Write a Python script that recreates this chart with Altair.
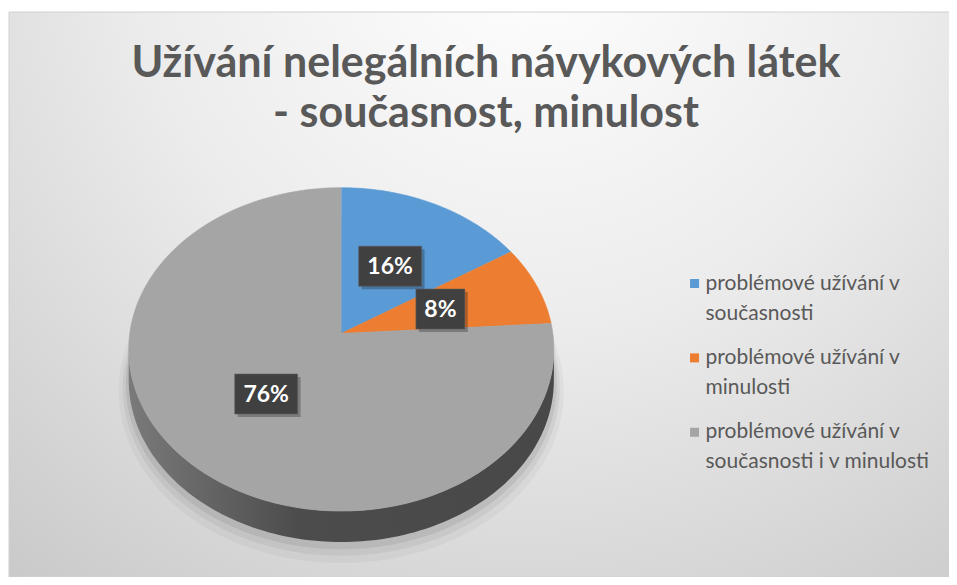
import altair as alt
import pandas as pd
import textwrap

# ---- data ----
categories = [
    "problémové užívání v současnosti",
    "problémové užívání v minulosti",
    "problémové užívání v současnosti i v minulosti",
]
values = [16, 8, 76]
colors = ["#5b9bd5", "#ed7d31", "#a5a5a5"]
title_lines = ["Užívání nelegálních návykových látek", "- současnost, minulost"]

# ---- layout constants (view pixels) ----
W, H = 941, 569
CX, CY = 333, 326          # pie centre
R, S, K = 212, 160.4, 0.0987  # perspective ellipse parameters
D = 31                     # pie thickness
N = 120                    # arc resolution

df = pd.DataFrame({
    "category": categories,
    "value": values,
    "order": list(range(len(categories))),
    "legend": [textwrap.fill(c, 26) for c in categories],
})

xs = alt.Scale(domain=[0, W], nice=False, zero=False)
ys = alt.Scale(domain=[0, H], nice=False, zero=False, reverse=True)
cscale = alt.Scale(domain=categories, range=colors)


def X(f):
    return alt.X(f, type="quantitative", scale=xs, axis=None)


def Y(f):
    return alt.Y(f, type="quantitative", scale=ys, axis=None)


def projx(t, r, rx=R):
    return f"{CX} + {rx}*({r})*sin({t})/(1 + {K}*({r})*cos({t}))"


def projy(t, r, ry=S):
    return f"{CY} - {ry}*({r})*cos({t})/(1 + {K}*({r})*cos({t}))"


# background with radial gradient
bg = alt.Chart(pd.DataFrame({"a": [0]})).mark_rect(
    fill=alt.RadialGradient(
        gradient="radial",
        stops=[
            alt.GradientStop(color="#ffffff", offset=0),
            alt.GradientStop(color="#ececec", offset=0.45),
            alt.GradientStop(color="#c6c6c6", offset=1),
        ],
        x1=0.55, y1=0.12, x2=0.55, y2=0.12, r1=0, r2=0.92,
    ),
    stroke="#d0d0d0",
    strokeWidth=1,
).encode(x=alt.value(0), x2=alt.value(W), y=alt.value(4), y2=alt.value(H))

# soft shadow beneath the pie
shadows = []
for g, off, op in [(10, 10, 0.035), (6, 7, 0.05), (3, 4, 0.07)]:
    sh = alt.Chart(alt.sequence(0, N + 1, as_="i")).transform_calculate(
        t=f"2*PI*datum.i/{N}"
    ).transform_calculate(
        px=projx("datum.t", 1, R + g),
        py=projy("datum.t", 1, S + g) + f" + {D + off}",
    ).mark_line(fill="#000000", fillOpacity=op, strokeOpacity=0).encode(
        x=X("px"), y=Y("py"), order="i:Q"
    )
    shadows.append(sh)

# pie side (thickness)
TH1 = "acos(-%f)" % K
TH2 = "(2*PI - acos(-%f))" % K
side = alt.Chart(alt.sequence(0, 2 * N + 2, as_="i")).transform_calculate(
    t=f"datum.i <= {N} ? {TH1} + ({TH2} - {TH1})*datum.i/{N} : {TH2} - ({TH2} - {TH1})*(datum.i - {N} - 1)/{N}",
    dy=f"datum.i <= {N} ? 0 : {D}",
).transform_calculate(
    px=projx("datum.t", 1),
    py=projy("datum.t", 1) + " + datum.dy",
).mark_line(
    fill=alt.LinearGradient(
        gradient="linear",
        stops=[
            alt.GradientStop(color="#7a7a7a", offset=0),
            alt.GradientStop(color="#4c4c4c", offset=0.4),
            alt.GradientStop(color="#484848", offset=1),
        ],
        x1=0, x2=1, y1=0, y2=0,
    ),
    strokeOpacity=0,
).encode(x=X("px"), y=Y("py"), order="i:Q")


def base(chart):
    return chart.transform_joinaggregate(total="sum(value)").transform_window(
        cum="sum(value)", sort=[alt.SortField("order")]
    ).transform_calculate(
        a0="(datum.cum - datum.value)/datum.total*2*PI",
        a1="datum.cum/datum.total*2*PI",
    )


# pie top face
slices = base(alt.Chart(df)).transform_calculate(
    pts=f"sequence(0, {N + 2})"
).transform_flatten(["pts"]).transform_calculate(
    t=f"datum.a0 + (datum.a1 - datum.a0)*max(datum.pts - 1, 0)/{N}",
    rr="datum.pts == 0 ? 0 : 1",
).transform_calculate(
    px=projx("datum.t", "datum.rr"),
    py=projy("datum.t", "datum.rr"),
).mark_line(strokeWidth=0.6).encode(
    x=X("px"),
    y=Y("py"),
    order="pts:Q",
    fill=alt.Fill("category:N", scale=cscale, legend=None),
    stroke=alt.Stroke("category:N", scale=cscale, legend=None),
)

# data labels
lab = base(alt.Chart(df)).transform_calculate(
    mid="(datum.a0 + datum.a1)/2",
    label="format(datum.value/datum.total, '.0%')",
).transform_calculate(
    lx=projx("datum.mid", 0.5),
    ly=projy("datum.mid", 0.5),
    w="14*length(datum.label) + 21",
).transform_calculate(
    bx0="datum.lx - datum.w/2", bx1="datum.lx + datum.w/2",
    by0="datum.ly - 20", by1="datum.ly + 20",
    sx0="datum.lx - datum.w/2 + 3", sx1="datum.lx + datum.w/2 + 3",
    sy0="datum.ly - 17", sy1="datum.ly + 23",
)

lab_shadow = lab.mark_rect(color="#000000", opacity=0.25).encode(
    x=X("sx0"), x2="sx1", y=Y("sy0"), y2="sy1"
)
lab_box = lab.mark_rect(color="#404040", stroke="#5a5a5a", strokeWidth=0.6).encode(
    x=X("bx0"), x2="bx1", y=Y("by0"), y2="by1"
)
lab_text = lab.mark_text(
    font="Lato", fontSize=23, fontWeight="bold", color="#ffffff",
    align="center", baseline="middle", dy=1,
).encode(x=X("lx"), y=Y("ly"), text="label:N")

# title
title_df = pd.DataFrame({"line": title_lines, "i": list(range(len(title_lines)))})
title = alt.Chart(title_df).transform_calculate(
    tx="478", ty="69 + 50*datum.i"
).mark_text(
    font="Lato", fontSize=43, fontWeight="bold", color="#595959",
    align="center", baseline="alphabetic",
).encode(x=X("tx"), y=Y("ty"), text="line:N")

# legend
leg = alt.Chart(df).transform_calculate(
    sx="687", tx="698", ty="282 + 74.5*datum.order", sy="282 + 74.5*datum.order - 6"
)
leg_sq = leg.mark_square(size=81, opacity=1).encode(
    x=X("sx"), y=Y("sy"),
    color=alt.Color("category:N", scale=cscale, legend=None),
)
leg_txt = leg.mark_text(
    font="Lato", fontSize=21, color="#595959", align="left",
    baseline="alphabetic", lineBreak="\n", lineHeight=30,
).encode(x=X("tx"), y=Y("ty"), text="legend:N")

chart = alt.layer(
    bg, *shadows, side, slices, lab_shadow, lab_box, lab_text, title, leg_sq, leg_txt
).properties(
    width=W, height=H, padding=0,
    autosize=alt.AutoSizeParams(type="fit", contains="padding"),
).configure_view(stroke=None)

chart.save("out.html", embed_options={"renderer": "svg", "actions": False})
